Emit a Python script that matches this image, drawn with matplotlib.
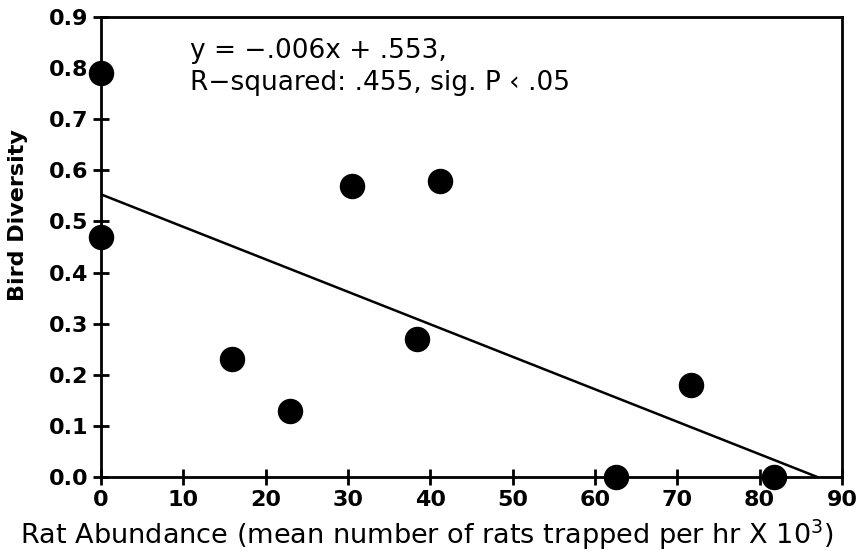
import numpy as np
import matplotlib as mpl
mpl.use('Agg')
import matplotlib.pyplot as plt

# data
rat_abundance = [0, 0, 15.9, 23.0, 30.5, 38.4, 41.2, 62.6, 71.6, 81.8]
bird_diversity = [0.79, 0.47, 0.23, 0.13, 0.57, 0.27, 0.58, 0.0, 0.18, 0.0]

# fitted line as drawn (intercept .553, meets zero near x=87)
fit_x = [0, 87.0]
fit_y = [0.553, 0.0]

x_ticks = np.arange(0, 100, 10)
y_ticks = np.arange(0, 1.0, 0.1)

fig = plt.figure(figsize=(8.65, 5.55), dpi=100)
ax = fig.add_axes([101/865, 78/555, 741/865, 460/555])

ax.plot(fit_x, fit_y, color='black', linewidth=1.8, zorder=2)
ax.scatter(rat_abundance, bird_diversity, s=300, color='black', zorder=3, clip_on=False)

ax.set_xlim(0, 90)
ax.set_ylim(0, 0.9)
ax.set_xticks(x_ticks)
ax.set_yticks(y_ticks)
ax.set_xticklabels([str(int(v)) for v in x_ticks])
ax.set_yticklabels(['%.1f' % v for v in y_ticks])

for s in ax.spines.values():
	s.set_linewidth(2)
ax.tick_params(direction='inout', length=12, width=2, labelsize=16, pad=3)
for lab in ax.get_xticklabels() + ax.get_yticklabels():
	lab.set_fontweight('bold')

ax.set_xlabel('Rat Abundance (mean number of rats trapped per hr X 10$^{3}$)', fontsize=19.5, va='center')
ax.xaxis.set_label_coords(0.44, -0.126)
ax.set_ylabel('Bird Diversity', fontsize=16, fontweight='bold', va='center')
ax.yaxis.set_label_coords(-0.112, 0.57)

ax.text(0.12, 0.955, 'y = \u2212.006x + .553,\nR\u2212squared: .455, sig. P \u2039 .05',
	transform=ax.transAxes, fontsize=19, va='top', ha='left', linespacing=1.3)

fig.savefig('out.png', dpi=100)
